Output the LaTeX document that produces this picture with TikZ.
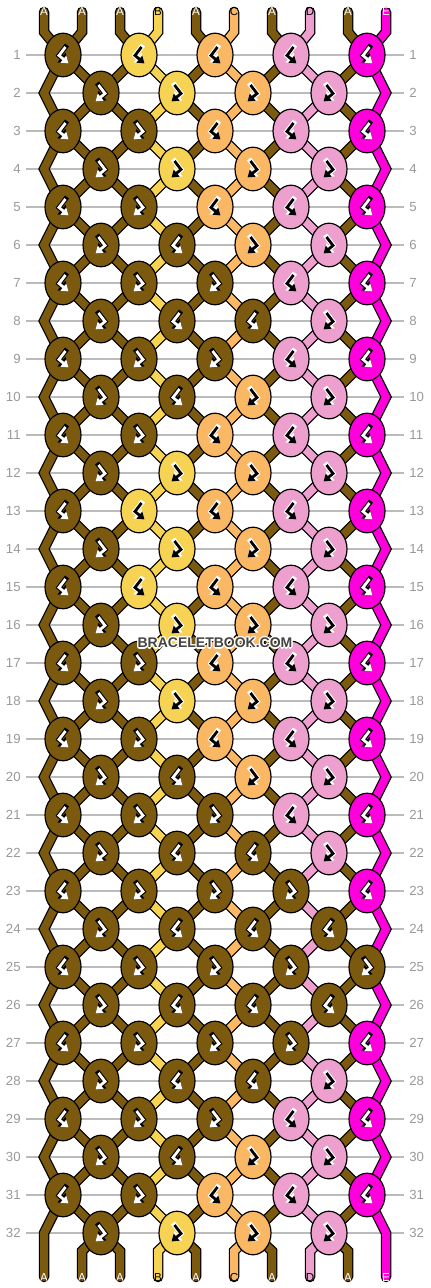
\documentclass[tikz,border=0pt]{standalone}
\usepackage{fontspec}
\setmainfont{Liberation Sans}
\usetikzlibrary{arrows.meta,shapes.geometric}
\definecolor{sA}{HTML}{7B5A10}
\definecolor{sB}{HTML}{F7D354}
\definecolor{sC}{HTML}{FAB865}
\definecolor{sD}{HTML}{EDA0CE}
\definecolor{sE}{HTML}{FF00DD}
\colorlet{gA}{white}\colorlet{oA}{black}
\colorlet{gB}{black}\colorlet{oB}{white}
\colorlet{gC}{black}\colorlet{oC}{white}
\colorlet{gD}{black}\colorlet{oD}{white}
\colorlet{gE}{white}\colorlet{oE}{black}
\colorlet{lA}{white}\colorlet{lB}{black}\colorlet{lC}{black}\colorlet{lD}{black}\colorlet{lE}{white}
\definecolor{gridgray}{HTML}{BBBBBB}
\definecolor{numgray}{HTML}{999999}
\definecolor{wmgray}{HTML}{444444}
\begin{document}
\begin{tikzpicture}[x=0.5pt, y=-0.5pt,
  rowline/.style={draw=gridgray, line width=0.6pt},
  rownum/.style={text=numgray, font=\fontsize{6.6}{7}\selectfont, inner sep=0pt},
  strandout/.style={draw=black, line width=5.25pt, line cap=round, line join=miter},
  strandin/.style={draw=s#1, line width=4pt, line cap=round, line join=miter},
  knot/.style={ellipse, draw=black, line width=0.6pt, fill=s#1, minimum width=18pt, minimum height=21.8pt, inner sep=0pt},
  endlabel/.style={text=l#1, font=\fontsize{5.8}{6}\selectfont, inner sep=0pt},
  wmark/.style={font=\bfseries\fontsize{7}{8}\selectfont, inner sep=0pt},
  pics/hook/.style={code={
    \draw[draw=o#1, line width=2.5pt, line cap=rect, -{Triangle[length=4.6pt,width=6pt]}] (2.5,-8) -- (-4,0.5) -- (5.5,8.5);
    \draw[draw=g#1, line width=1.4pt, -{Triangle[length=3.4pt,width=4.4pt]}] (2.5,-8) -- (-4,0.5) -- (5.5,8.5);
  }}]
\useasboundingbox (0,0) rectangle (430,1288);
\foreach \r in {1,...,32}{
  \pgfmathsetmacro\y{55+38*(\r-1)}
  \node[rownum, anchor=east] (ln\r) at (21,\y) {\r};
  \node[rownum, anchor=west] (rn\r) at (409,\y) {\r};
  \draw[rowline] ([xshift=2.5pt]ln\r.east) -- ([xshift=-2.5pt]rn\r.west);
}
\foreach \i in {1,...,10}{
  \pgfmathsetmacro\x{44+38*(\i-1)}
  \coordinate (st\i) at (\x,12);
  \coordinate (tb\i) at (\x,32);
  \coordinate (bb\i) at (\x,1251);
  \coordinate (sb\i) at (\x,1277);
  \foreach \r in {1,...,32}{
    \pgfmathsetmacro\y{55+38*(\r-1)}
    \pgfmathsetmacro\px{isodd(\r) ? 63+76*floor((\i-1)/2) : (\i==1 ? 44 : (\i==10 ? 386 : 101+76*(floor(\i/2)-1)))}
    \coordinate (p\i-\r) at (\px,\y);
  }
}
\foreach \i/\L in {1/A,2/A,3/A,4/B,5/A,6/C,7/A,8/D,9/A,10/E}{
  \draw[strandout] (st\i) -- (tb\i) \foreach \r in {1,...,32}{-- (p\i-\r)} -- (bb\i) -- (sb\i);
  \draw[strandin=\L] (st\i) -- (tb\i) \foreach \r in {1,...,32}{-- (p\i-\r)} -- (bb\i) -- (sb\i);
}
\foreach \r/\n in {1/0,2/0,3/1,4/0,5/1,6/1,7/2,8/2,9/2,10/1,11/1,12/0,13/0,14/0,15/0,16/0,
                   17/1,18/0,19/1,20/1,21/2,22/2,23/3,24/3,25/4,26/3,27/3,28/2,29/2,30/1,31/1,32/0}{
  \ifodd\r\relax
    \def\knotlist{1/A,2/B,3/C,4/D,5/E}\def\mon{1}\def\moff{-1}%
  \else
    \def\knotlist{1/A,2/B,3/C,4/D}\def\mon{-1}\def\moff{1}%
  \fi
  \foreach \c/\L in \knotlist{
    \pgfmathtruncatemacro\s{(\c==1)||(\c>\n+1)}
    \pgfmathtruncatemacro\ii{2*\c}
    \ifnum\s=1 \edef\kc{\L}\edef\mir{\mon}\else\edef\kc{A}\edef\mir{\moff}\fi
    \node[knot=\kc] (k\r-\c) at (p\ii-\r) {};
    \pic[xscale=\mir] at (k\r-\c) {hook=\kc};
  }
}
\foreach \i/\L in {1/A,2/A,3/A,4/B,5/A,6/C,7/A,8/D,9/A,10/E}{
  \node[endlabel=\L] (tl\i) at (st\i) {\L};
  \node[endlabel=\L] (bl\i) at (sb\i) {\L};
}
\coordinate (wmc) at (215,643);
\foreach \a [count=\n] in {0,45,...,315}
  \node[wmark, text=white] (wmh\n) at ([shift={(\a:1.3)}]wmc) {BRACELETBOOK.COM};
\node[wmark, text=wmgray] (wm) at (wmc) {BRACELETBOOK.COM};
\end{tikzpicture}
\end{document}
